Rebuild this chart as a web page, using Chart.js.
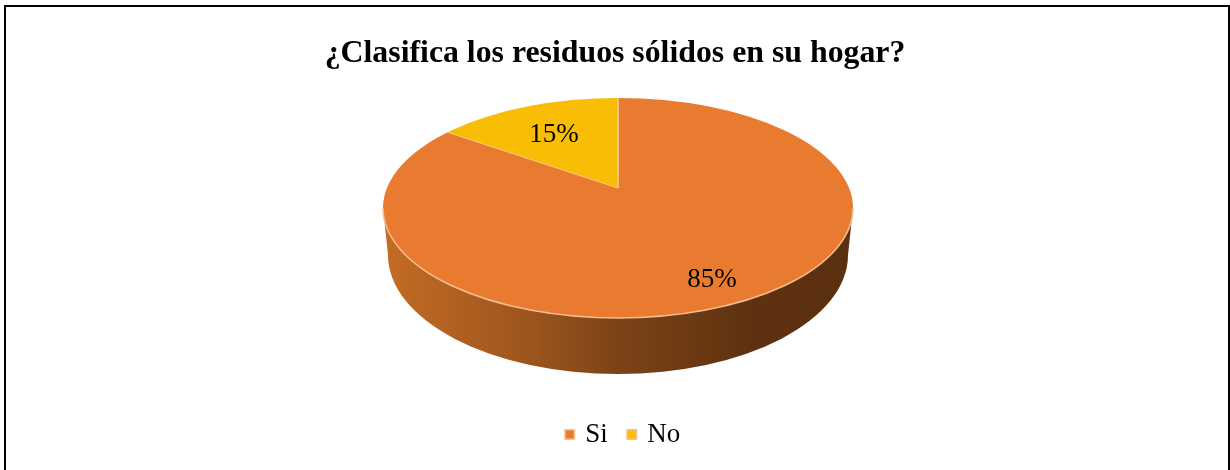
<!DOCTYPE html>
<html>
<head>
<meta charset="utf-8">
<title>Clasifica residuos</title>
<script src="https://cdn.jsdelivr.net/npm/chart.js@4"></script>
<style>
    body { margin: 0; background: #fff; }
    #wrap { position: relative; width: 1230px; height: 470px; overflow: hidden; }
    #frame { position: absolute; left: 4px; top: 5px; width: 1222px; height: 480px; border: 2px solid #000; }
    canvas { position: absolute; left: 0; top: 0; }
</style>
</head>
<body>
<div id="wrap">
    <canvas id="chart" width="1230" height="470"></canvas>
    <div id="frame"></div>
</div>
<script>
// --- DATA ---
const categories = ['Si', 'No'];
const values = [85, 15];
const titleText = '¿Clasifica los residuos sólidos en su hogar?';

const colors = ['#E97B30', '#FABD06'];
const serif = '"Liberation Serif", "Times New Roman", serif';

// Look of the tilted disc
const face = { x: 618, y: 208, rx: 235, ry: 110 };
const base = { x: 618, y: 255, rx: 230, ry: 119 };
const apex = { x: 618, y: 188, squash: 0.45 };
const labelSpots = [{ x: 712, y: 280 }, { x: 554, y: 135 }];
const legendShift = { x: 9, y: -12 };

const tiltPlugin = {
    id: 'tilt',
    afterLayout(chart) {
        // legend sits a bit off the spot the layout gives it
        chart.legend.left += legendShift.x;
        chart.legend.right += legendShift.x;
        chart.legend.top += legendShift.y;
        chart.legend.bottom += legendShift.y;
    },
    beforeDatasetsDraw(chart) {
        const ctx = chart.ctx;
        const arc = chart.getDatasetMeta(0).data[0];

        // side wall
        const wall = ctx.createLinearGradient(face.x - face.rx, 0, face.x + face.rx, 0);
        wall.addColorStop(0, '#C36C26');
        wall.addColorStop(0.3, '#9E561D');
        wall.addColorStop(0.5, '#7C4317');
        wall.addColorStop(0.78, '#5E3210');
        wall.addColorStop(1, '#5C300F');
        ctx.save();
        ctx.fillStyle = wall;
        ctx.beginPath();
        ctx.moveTo(face.x - face.rx, face.y);
        ctx.lineTo(base.x - base.rx, base.y);
        ctx.ellipse(base.x, base.y, base.rx, base.ry, 0, Math.PI, 0, true);
        ctx.lineTo(face.x + face.rx, face.y);
        ctx.closePath();
        ctx.fill();
        ctx.restore();

        // top face: the library's arcs, squashed and cut to the ellipse
        ctx.save();
        ctx.beginPath();
        ctx.ellipse(face.x, face.y, face.rx, face.ry, 0, 0, Math.PI * 2);
        ctx.clip();
        ctx.translate(apex.x, apex.y);
        ctx.scale(1, apex.squash);
        ctx.translate(-arc.x, -arc.y);
    },
    afterDatasetsDraw(chart) {
        const ctx = chart.ctx;
        ctx.restore();

        // light rim on the front edge
        ctx.save();
        ctx.strokeStyle = '#F6BE92';
        ctx.lineWidth = 1.5;
        ctx.beginPath();
        ctx.ellipse(face.x, face.y, face.rx, face.ry, 0, 0, Math.PI);
        ctx.stroke();
        ctx.restore();

        // value labels
        ctx.save();
        ctx.font = '27px ' + serif;
        ctx.fillStyle = '#000';
        ctx.textAlign = 'center';
        ctx.textBaseline = 'middle';
        values.forEach((v, i) => {
            ctx.fillText(v + '%', labelSpots[i].x, labelSpots[i].y);
        });
        ctx.restore();
    }
};

new Chart(document.getElementById('chart').getContext('2d'), {
    type: 'pie',
    data: {
        labels: categories,
        datasets: [{
            data: values,
            backgroundColor: colors,
            borderColor: '#F4C48F',
            borderWidth: 1.5,
            clip: false
        }]
    },
    options: {
        responsive: false,
        animation: false,
        radius: 292,
        plugins: {
            title: {
                display: true,
                text: titleText,
                color: '#000',
                font: { family: serif, size: 31.8, weight: 'bold' },
                padding: { top: 35, bottom: 10 }
            },
            legend: {
                position: 'bottom',
                labels: {
                    color: '#000',
                    font: { family: serif, size: 27 },
                    usePointStyle: true,
                    pointStyle: 'rect',
                    boxWidth: 4,
                    boxHeight: 9.5,
                    padding: 22
                }
            },
            tooltip: { enabled: false }
        }
    },
    plugins: [tiltPlugin]
});
</script>
</body>
</html>
